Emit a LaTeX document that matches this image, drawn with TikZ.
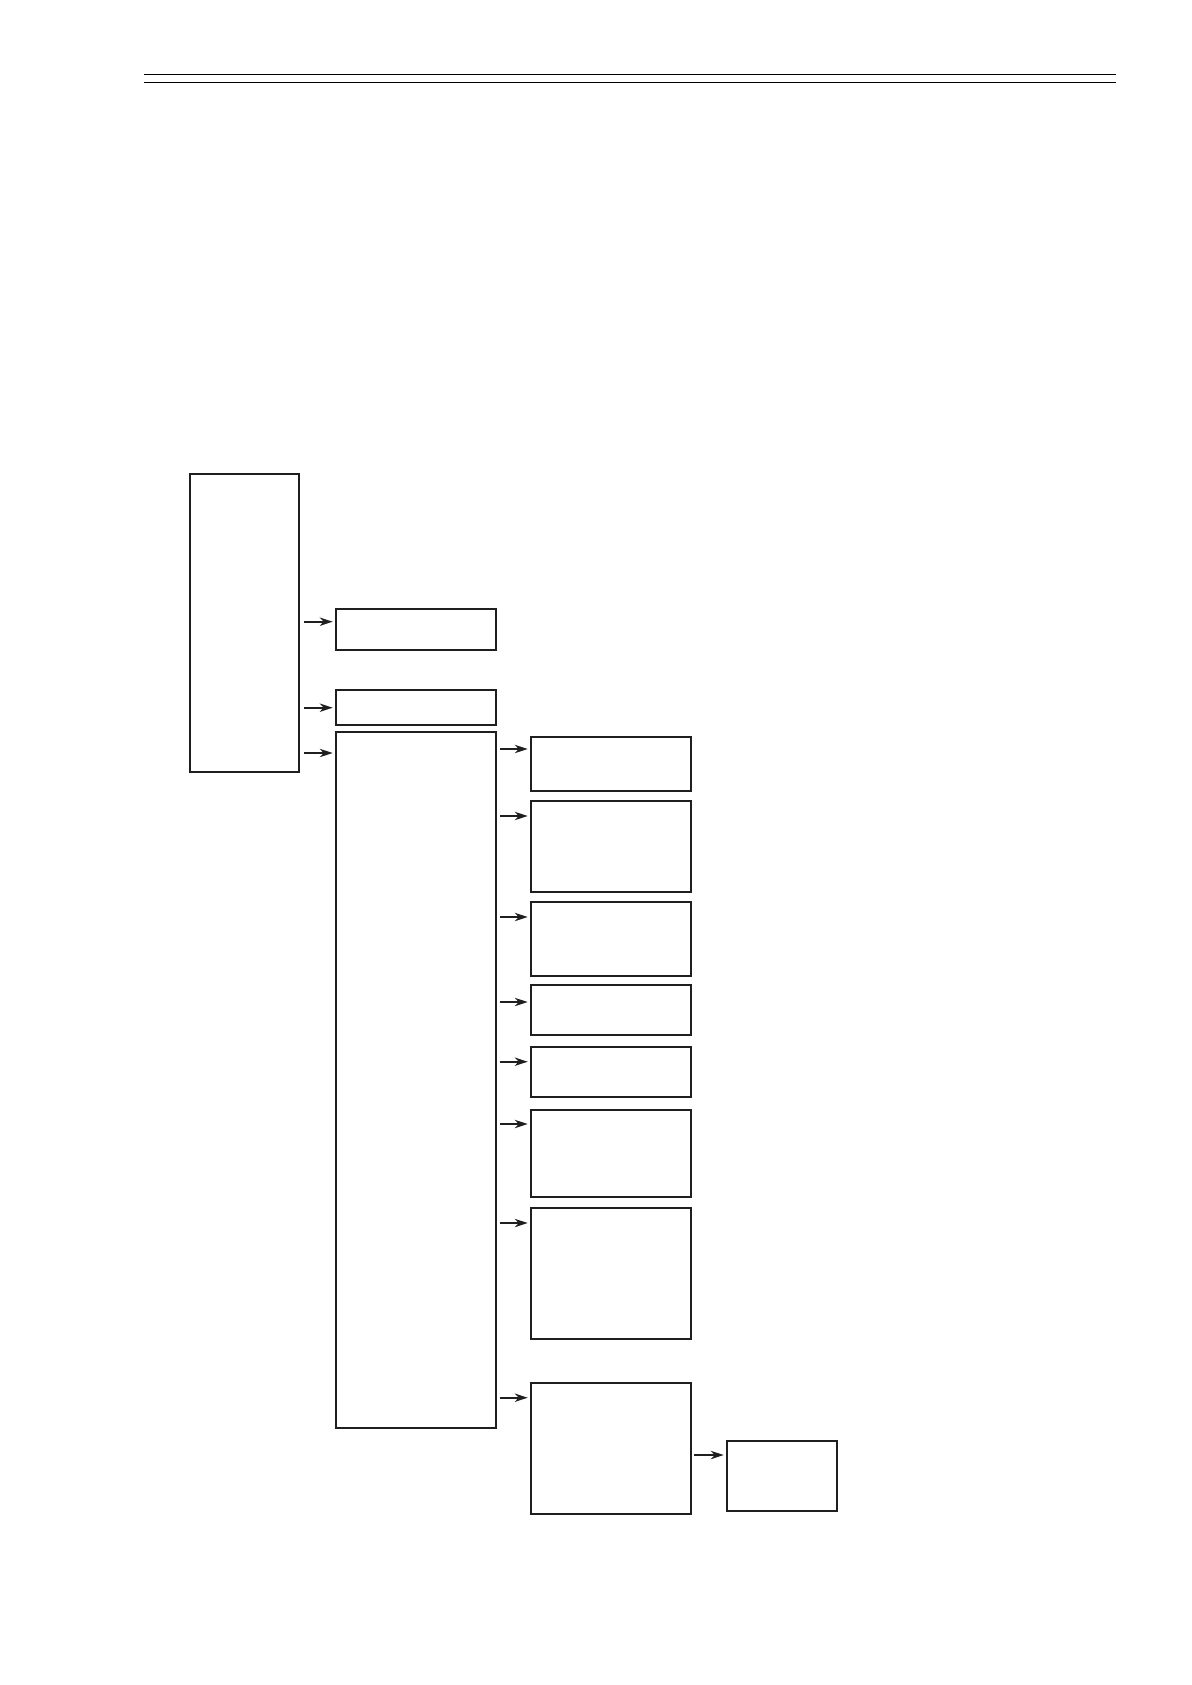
\documentclass[tikz,border=0pt]{standalone}
\usetikzlibrary{arrows.meta}
\begin{document}
\begin{tikzpicture}[x=0.5pt,y=-0.5pt,
  box/.style={draw=black!88,line width=0.85pt,inner sep=0pt,outer sep=0pt,anchor=north west},
  arr/.style={draw=black!88,line width=0.85pt,-{Stealth[length=6.5pt,width=4.2pt,inset=2pt]},shorten >=1.5pt},
  rule/.style={line width=0.65pt}]
\useasboundingbox (0,0) rectangle (1191,1685);
% header rules
\coordinate (h1l) at (144,74.3); \coordinate (h1r) at (1116,74.3);
\coordinate (h2l) at (144,82.3); \coordinate (h2r) at (1116,82.3);
\draw[rule] (h1l) -- (h1r);
\draw[rule] (h2l) -- (h2r);
% boxes
\newcommand{\bx}[5]{\node[box,minimum width={(#4-#2)*0.5pt},minimum height={(#5-#3)*0.5pt}] (#1) at (#2,#3) {};}
\bx{L}{190.3}{474.3}{299}{772}
\bx{A}{335.7}{609}{496.3}{650}
\bx{B}{335.7}{689.7}{496.3}{725}
\bx{C}{335.7}{732}{496.3}{1427.7}
\bx{R1}{530.7}{736.7}{691.3}{791}
\bx{R2}{530.7}{800.7}{691.3}{892}
\bx{R3}{530.7}{902}{691.3}{976}
\bx{R4}{530.7}{985}{691.3}{1034.7}
\bx{R5}{530.7}{1047}{691.3}{1097}
\bx{R6}{530.7}{1110}{691.3}{1197}
\bx{R7}{530.7}{1207.7}{691.3}{1338.7}
\bx{R8}{530.7}{1383}{691.3}{1514}
\bx{S}{726.7}{1440.7}{837}{1511}
% arrow starts
\coordinate (a1) at (304,621.7);
\coordinate (a2) at (304,707.7);
\coordinate (a3) at (304,753);
\coordinate (b1) at (500,749);
\coordinate (b2) at (500,816);
\coordinate (b3) at (500,917);
\coordinate (b4) at (500,1002);
\coordinate (b5) at (500,1061.7);
\coordinate (b6) at (500,1124);
\coordinate (b7) at (500,1223);
\coordinate (b8) at (500,1397.7);
\coordinate (c1) at (694,1455);
\draw[arr] (a1) -- (a1 -| A.west);
\draw[arr] (a2) -- (a2 -| B.west);
\draw[arr] (a3) -- (a3 -| C.west);
\draw[arr] (b1) -- (b1 -| R1.west);
\draw[arr] (b2) -- (b2 -| R2.west);
\draw[arr] (b3) -- (b3 -| R3.west);
\draw[arr] (b4) -- (b4 -| R4.west);
\draw[arr] (b5) -- (b5 -| R5.west);
\draw[arr] (b6) -- (b6 -| R6.west);
\draw[arr] (b7) -- (b7 -| R7.west);
\draw[arr] (b8) -- (b8 -| R8.west);
\draw[arr] (c1) -- (c1 -| S.west);
\end{tikzpicture}
\end{document}
